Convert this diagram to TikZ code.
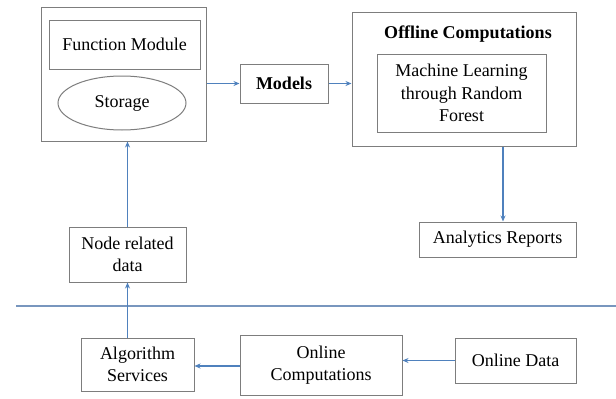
\documentclass[tikz,border=0pt]{standalone}
\usepackage{fontspec}
\setmainfont{Liberation Serif}
\usetikzlibrary{arrows.meta,shapes.geometric}

\definecolor{lineblue}{RGB}{79,129,189}
\definecolor{sepblue}{RGB}{120,150,190}
\definecolor{boxgray}{RGB}{125,125,125}

\def\fsize{\fontsize{18}{22.5}\selectfont}

\begin{document}
\begin{tikzpicture}[x=1pt, y=-1pt,
    box/.style={draw=boxgray, line width=1pt, minimum width=#1, align=center,
      inner sep=0pt, font=\fsize},
    oval/.style={draw=boxgray, line width=1pt, ellipse, inner sep=0pt, font=\fsize},
    flow/.style={draw=lineblue, line width=1.1pt, -{Stealth[length=6pt,width=5pt]}}]
  \useasboundingbox (0,0) rectangle (616,399);
  % -- upper part
  \node[box=165pt, minimum height=134pt] (sys) at (123.5, 74) {};
  \node[box=151pt, minimum height=49pt] (func) at (124.5, 44.5) {Function Module};
  \node[oval, minimum width=128pt, minimum height=54pt] (store) at (122, 103) {Storage};
  \node[box=88pt, minimum height=39pt, font=\fsize\bfseries] (models) at (284, 83.5) {Models};
  \node[box=224pt, minimum height=134pt] (offline) at (464, 79) {};
  \node[font=\fsize\bfseries] (offtitle) at (468, 34) {Offline Computations};
  \node[box=169pt, minimum height=78pt] (ml) at (461.5, 93)
    {Machine Learning\\through Random\\Forest};
  \node[box=157pt, minimum height=35pt] (reports) at (497.5, 239.5) {Analytics Reports};
  \node[box=117pt, minimum height=55pt] (noderel) at (127.5, 254.5) {Node related\\data};

  % -- lower part
  \node[box=113pt, minimum height=53pt] (algo) at (137.5, 364.5) {Algorithm\\Services};
  \node[box=162pt, minimum height=60pt] (onlcomp) at (321, 365) {Online\\Computations};
  \node[box=121pt, minimum height=45pt] (onldata) at (515.5, 360.5) {Online Data};

  \coordinate (sepL) at (16, 306);
  \coordinate (sepR) at (616, 306);
  \draw[sepblue, line width=1.3pt] (sepL) -- (sepR);

  % -- arrows
  \draw[flow] (models.west -| sys.east) -- (models.west);
  \draw[flow] (models.east) -- (models.east -| offline.west);
  \draw[flow] ([xshift=5.5pt]reports.north |- offline.south) -- ([xshift=5.5pt]reports.north);
  \draw[flow] (noderel.north) -- (noderel.north |- sys.south);
  \draw[flow] (noderel.south |- algo.north) -- (noderel.south);
  \draw[flow] ([yshift=-1pt]onlcomp.west) -- ([yshift=-1pt]onlcomp.west -| algo.east);
  \draw[flow] (onldata.west) -- (onldata.west -| onlcomp.east);

\end{tikzpicture}
\end{document}
